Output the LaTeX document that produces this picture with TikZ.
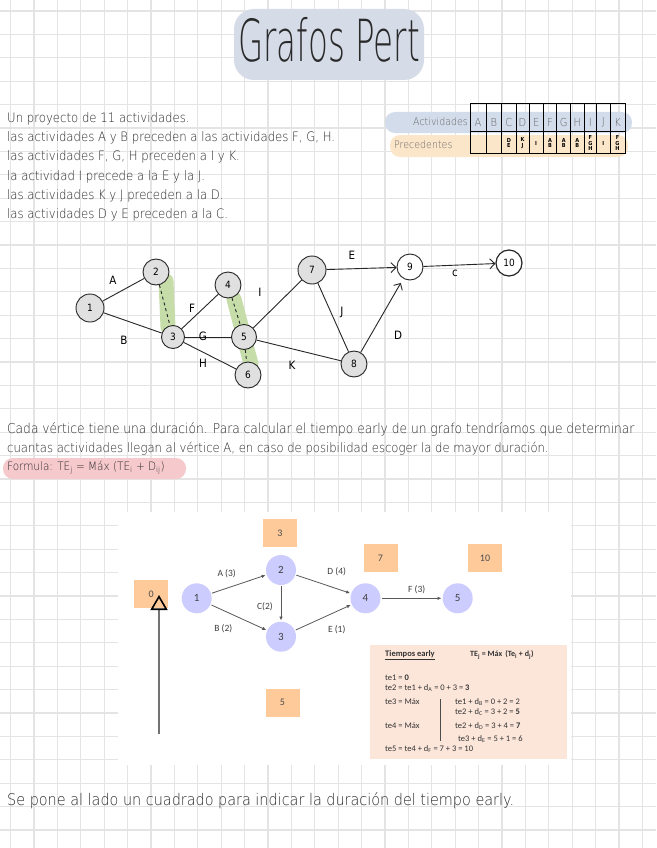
\documentclass[tikz,border=0pt]{standalone}
\usepackage{fontspec}
\setmainfont{Liberation Sans}
\newfontfamily\hand[FakeStretch=0.9]{DejaVu Sans}[UprightFont=* ExtraLight]
\newfontfamily\pen[FakeStretch=0.9]{DejaVu Sans}
\newfontfamily\titlefont[FakeStretch=0.56]{DejaVu Sans}[UprightFont=* ExtraLight]
\newfontfamily\calib{Carlito}
\usetikzlibrary{positioning, arrows.meta, calc}
\definecolor{gridc}{HTML}{E4E4E4}
\definecolor{titleblob}{HTML}{D5DCE8}
\definecolor{actblob}{HTML}{D3DCEB}
\definecolor{preblob}{HTML}{FCE6CA}
\definecolor{dummyc}{HTML}{C6DDAA}
\definecolor{formc}{HTML}{F6C9CC}
\definecolor{vcol}{HTML}{CCCCFF}
\definecolor{ecol}{HTML}{FFCA9A}
\definecolor{tcol}{HTML}{FCE6DA}
\definecolor{ink}{HTML}{2A2A2A}

\begin{document}
\begin{tikzpicture}[x=1pt, y=-1pt,
    txt/.style={font=\hand\fontsize{13}{15}\selectfont, text=ink, anchor=west, inner sep=0pt},
    pnode/.style={circle, draw=black!85, fill=black!12, line width=0.9pt, minimum size=26pt, inner sep=0pt, font=\pen\fontsize{10}{12}\selectfont},
    lbl/.style={font=\pen\fontsize{11.5}{12}\selectfont, inner sep=1pt},
    edge/.style={line width=0.9pt, black!85},
    arr/.style={edge, -{Straight Barb[length=5pt, width=10pt]}},
    dummy/.style={edge, dash pattern=on 3pt off 3pt},
    hl/.style={line width=15pt, line cap=round, dummyc},
    vtx/.style={circle, fill=vcol, minimum size=30pt, inner sep=0pt, font=\calib\fontsize{11}{12}\selectfont, text=black!75},
    early/.style={fill=ecol, minimum width=34pt, minimum height=28pt, inner sep=0pt, font=\calib\fontsize{10}{12}\selectfont, text=black!70},
    varr/.style={-{Latex[length=4pt, width=3.5pt]}, black!65, line width=0.8pt, shorten >=1pt, shorten <=1pt},
    vlbl/.style={font=\calib\fontsize{9.5}{11}\selectfont, text=black!75, inner sep=0pt},
    tline/.style={font=\calib\fontsize{8.5}{10}\selectfont, text=black!80, anchor=west, inner sep=0pt},
  ]
    \useasboundingbox (0,0) rectangle (656,848);
    \fill[white] (0,0) rectangle (656,848);
    \foreach \i in {0,...,27}
      \draw[gridc, line width=1.2pt] ({10.5+23.4*\i},0) -- ++(0,848);
    \foreach \j in {0,...,35}
      \draw[gridc, line width=1.2pt] (0,{11+23.4*\j}) -- ++(656,0);

    % titulo
    \fill[titleblob, rounded corners=20pt] (234,9) rectangle (424,80);
    \node[font=\titlefont\fontsize{58}{60}\selectfont, text=ink] (title) at (329,40) {Grafos Pert};

    % enunciado
    \node[txt] (l1) at (7,119) {Un proyecto de 11 actividades.};
    \node[txt] (l2) at (7,138.2) {las actividades A y B preceden a las actividades F, G, H.};
    \node[txt] (l3) at (7,157.4) {las actividades F, G, H preceden a I y K.};
    \node[txt] (l4) at (7,176.6) {la actividad I precede a la E y la J.};
    \node[txt] (l5) at (7,195.8) {las actividades K y J preceden a la D.};
    \node[txt] (l6) at (7,215) {las actividades D y E preceden a la C.};

    % tabla
    \fill[actblob, rounded corners=10pt] (385,112) rectangle (632,133);
    \fill[preblob, rounded corners=10pt] (390,135) rectangle (628,157);
    \node[txt, anchor=east, text=black!60, font=\hand\fontsize{10.5}{12}\selectfont] (act) at (468,122) {Actividades};
    \node[txt, text=black!60, font=\hand\fontsize{10.5}{12}\selectfont] (pre) at (394,145) {Precedentes};
    \draw[line width=1pt] (470,104) rectangle (625,153);
    \draw[line width=1pt] (470,132) -- (625,132);
    \foreach \xa/\xb/\a/\p in {470/486/A/{}, 486/501.7/B/{}, 501.7/516/C/{D\\E}, 516/529/D/{K\\J},
        529/543.3/E/{I}, 543.3/556.7/F/{A\\B}, 556.7/570.7/G/{A\\B}, 570.7/584/H/{A\\B},
        584/596.7/I/{F\\G\\H}, 596.7/610/J/{I}, 610/625/K/{F\\G\\H}} {
      \draw[line width=1pt] (\xb,104) -- (\xb,153);
      \node[font=\hand\fontsize{11}{12}\selectfont, text=black!60, inner sep=0pt] at ({(\xa+\xb)/2},122) {\a};
      \node[font=\pen\bfseries\fontsize{5.5}{5.6}\selectfont, align=center, inner sep=0pt] at ({(\xa+\xb)/2},143) {\p};
    }

    % grafo a mano
    \draw[hl] (166,281) -- (168,327);
    \draw[hl] (234,299) -- (251,364);
    \node[pnode, minimum size=28pt] (n1) at (90,308) {1};
    \node[pnode] (n2) at (156,272) {2};
    \node[pnode, minimum size=23pt] (n3) at (173,337) {3};
    \node[pnode] (n4) at (228,285) {4};
    \node[pnode, minimum size=25pt] (n5) at (244,337) {5};
    \node[pnode] (n6) at (248,375) {6};
    \node[pnode, minimum size=28pt] (n7) at (312,270) {7};
    \node[pnode] (n8) at (354,364) {8};
    \node[pnode, fill=white] (n9) at (410,267) {9};
    \node[pnode, fill=white, line width=1.2pt] (n10) at (509,263) {10};

    \draw[edge] (n1) -- (n2);
    \draw[edge] (n1) -- (n3);
    \draw[dummy] (n2) -- (n3);
    \draw[edge] (n3) -- (n4);
    \draw[edge] (n3) -- (n5);
    \draw[edge] (n3) -- (n6);
    \draw[dummy] (n4) -- (n5);
    \draw[dummy] (n5) -- (n6);
    \draw[edge] (n5) -- (n7);
    \draw[edge] (n5) -- (n8);
    \draw[edge] (n7) -- (n8);
    \draw[arr] (n7) -- (n9);
    \draw[arr, shorten >=5pt] (n8) -- (n9);
    \draw[arr] (n9) -- (n10);

    \node[lbl] (la) at (113,280) {A};
    \node[lbl] (lb) at (124,340) {B};
    \node[lbl] (lf) at (192,308) {F};
    \node[lbl] (lg) at (203,336) {G};
    \node[lbl] (lh) at (203,363) {H};
    \node[lbl] (li) at (260,292) {I};
    \node[lbl] (lk) at (292,365) {K};
    \node[lbl] (lj) at (342,312) {J};
    \node[lbl] (le) at (352,255) {E};
    \node[lbl] (ld) at (398,335) {D};
    \node[lbl] (lc) at (455,273) {c};

    % explicacion
    \node[txt, font=\hand\fontsize{13.6}{15}\selectfont] (p1) at (7,429) {Cada vértice tiene una duración. Para calcular el tiempo early de un grafo tendríamos que determinar};
    \node[txt, font=\hand\fontsize{12.9}{15}\selectfont] (p2) at (7,449) {cuantas actividades llegan al vértice A, en caso de posibilidad escoger la de mayor duración.};
    \fill[formc, rounded corners=10pt] (3,458) rectangle (186,479);
    \node[txt, font=\hand\fontsize{11.6}{14}\selectfont] (form) at (7,468) {Formula: TE\textsubscript{j} = Máx (TE\textsubscript{i} + D\textsubscript{ij})};

    % ejemplo
    \fill[white] (118,512) rectangle (571,765);
    \node[vtx] (v1) at (196.7,598.3) {1};
    \node[vtx] (v2) at (281,570) {2};
    \node[vtx] (v3) at (281,636.7) {3};
    \node[vtx] (v4) at (365.5,598.3) {4};
    \node[vtx] (v5) at (457.7,598.3) {5};
    \draw[varr] (v1) -- (v2);
    \draw[varr] (v1) -- (v3);
    \draw[varr] (v2) -- (v3);
    \draw[varr] (v2) -- (v4);
    \draw[varr] (v3) -- (v4);
    \draw[varr] (v4) -- (v5);
    \node[vlbl] (wa) at (226.7,573.3) {A (3)};
    \node[vlbl] (wb) at (223.3,628.3) {B (2)};
    \node[vlbl] (wc) at (265,606.7) {C(2)};
    \node[vlbl] (wd) at (336.7,571.7) {D (4)};
    \node[vlbl] (we) at (336.7,629.3) {E (1)};
    \node[vlbl] (wf) at (416.7,589.3) {F (3)};

    \node[early] (e0) at (151.2,594) {0};
    \node[early] (e3) at (280,533.3) {3};
    \node[early] (e7) at (380.5,558.3) {7};
    \node[early] (e10) at (485,558.3) {10};
    \node[early] (e5) at (282.5,702.5) {5};

    \coordinate (ptail) at (159,734);
    \coordinate (ptip) at (159,595);
    \draw[black!55, line width=2pt, -{Triangle[open, length=15pt, width=17pt, line width=1.6pt, color=black]}] (ptail) -- (ptip);

    \node[fill=tcol, minimum width=197pt, minimum height=114pt, anchor=north west, inner sep=0pt] (tbox) at (370,645) {};
    \node[tline, font=\calib\bfseries\fontsize{8.5}{10}\selectfont] (th) at (385,655) {\underline{Tiempos early}};
    \node[tline, font=\calib\bfseries\fontsize{8}{10}\selectfont] (tf) at (470,655) {TE\textsubscript{j} = Máx\, (Te\textsubscript{i} + d\textsubscript{j})};
    \node[tline] (t1) at (385,678) {te1 = \textbf{0}};
    \node[tline] (t2) at (385,688.5) {te2 = te1 + d\textsubscript{A} = 0 + 3 = \textbf{3}};
    \node[tline] (t3) at (385,702) {te3 = Máx};
    \node[tline] (t3a) at (455,702) {te1 + d\textsubscript{B} = 0 + 2 = 2};
    \node[tline] (t3b) at (455,712) {te2 + d\textsubscript{C} = 3 + 2 = \textbf{5}};
    \node[tline] (t4) at (385,726) {te4 = Máx};
    \node[tline] (t4a) at (455,726) {te2 + d\textsubscript{D} = 3 + 4 = \textbf{7}};
    \node[tline] (t4b) at (458,739) {te3 + d\textsubscript{E} = 5 + 1 = 6};
    \node[tline] (t5) at (385,749) {te5 = te4 + d\textsubscript{F} = 7 + 3 = 10};
    \draw[black!70, line width=0.8pt] (440,699) -- (440,741);

    % nota final
    \node[txt, font=\hand\fontsize{16}{18}\selectfont] (nota) at (7,801) {Se pone al lado un cuadrado para indicar la duración del tiempo early.};
  \end{tikzpicture}
\end{document}
